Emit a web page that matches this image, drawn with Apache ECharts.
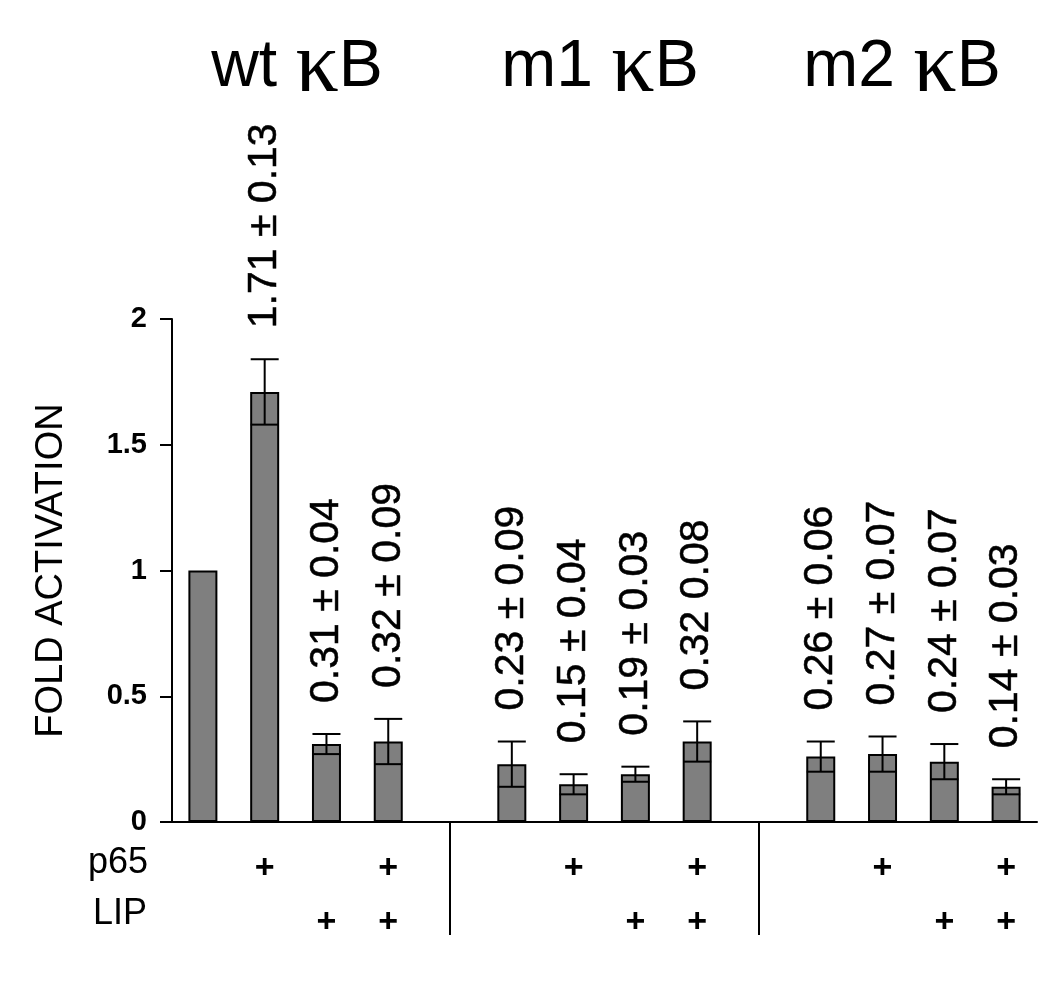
<!DOCTYPE html>
<html>
<head>
<meta charset="utf-8">
<script src="https://cdn.jsdelivr.net/npm/echarts@6/dist/echarts.min.js"></script>
<style>
  html, body { margin: 0; padding: 0; background: #fff; }
  #chart { width: 1050px; height: 981px; }
</style>
</head>
<body>
<div id="chart"></div>
<script>
// 数据
const categories = ['wt-1', 'wt-2', 'wt-3', 'wt-4', 'gap1', 'm1-1', 'm1-2', 'm1-3', 'm1-4', 'gap2', 'm2-1', 'm2-2', 'm2-3', 'm2-4'];
const values = [1, 1.71, 0.31, 0.32, null, 0.23, 0.15, 0.19, 0.32, null, 0.26, 0.27, 0.24, 0.14];
const errors = [null, 0.13, 0.04, 0.09, null, 0.09, 0.04, 0.03, 0.08, null, 0.06, 0.07, 0.07, 0.03];
const valueLabels = ['', '1.71 ± 0.13', '0.31 ± 0.04', '0.32 ± 0.09', '', '0.23 ± 0.09', '0.15 ± 0.04', '0.19 ± 0.03', '0.32 0.08', '', '0.26 ± 0.06', '0.27 ± 0.07', '0.24 ± 0.07', '0.14 ± 0.03'];
const p65 = [0, 1, 0, 1, 0, 0, 1, 0, 1, 0, 0, 1, 0, 1];
const lip = [0, 0, 1, 1, 0, 0, 0, 1, 1, 0, 0, 0, 1, 1];
const separators = ['gap1', 'gap2'];
const groupTitles = ['wt', 'm1', 'm2'];
const yTicks = [0, 0.5, 1, 1.5, 2];

const FONT = '"Liberation Sans", Arial, sans-serif';

const chart = echarts.init(document.getElementById('chart'));

const errData = [];
values.forEach((v, i) => {
  if (v != null && errors[i] != null) errData.push([i, v - errors[i], v + errors[i]]);
});
const labelData = values.map((v, i) => (v == null || !valueLabels[i]) ? '-' : v + (errors[i] || 0));

const option = {
  animation: false,
  backgroundColor: '#fff',
  grid: { left: 172, right: 13, top: 319, bottom: 159 },
  xAxis: {
    type: 'category',
    data: categories,
    axisLine: { lineStyle: { color: '#000', width: 2 } },
    axisTick: {
      show: true,
      alignWithLabel: true,
      length: 113,
      interval: (idx, val) => separators.indexOf(val) >= 0,
      lineStyle: { color: '#000', width: 2 }
    },
    axisLabel: {
      interval: 0,
      margin: 20,
      formatter: (val, idx) => {
        if (separators.indexOf(val) >= 0) return '';
        return '{p|' + (p65[idx] ? '+' : ' ') + '}\n{p|' + (lip[idx] ? '+' : ' ') + '}';
      },
      rich: {
        p: { fontFamily: FONT, fontWeight: 'bold', fontSize: 34, lineHeight: 54, color: '#000' }
      }
    }
  },
  yAxis: {
    type: 'value',
    min: 0,
    max: 2,
    interval: 0.5,
    name: 'FOLD ACTIVATION',
    nameLocation: 'middle',
    nameGap: 101,
    nameTextStyle: { fontFamily: FONT, fontSize: 38, color: '#000' },
    splitLine: { show: false },
    axisLine: { show: true, lineStyle: { color: '#000', width: 2 } },
    axisTick: { show: true, length: 12, lineStyle: { color: '#000', width: 2 } },
    axisLabel: {
      margin: 25,
      fontFamily: FONT,
      fontWeight: 'bold',
      fontSize: 29,
      color: '#000',
      formatter: v => yTicks.indexOf(v) >= 0 ? String(v) : ''
    }
  },
  series: [
    {
      type: 'bar',
      data: values,
      barWidth: 29,
      itemStyle: { color: '#7f7f7f', borderColor: '#000', borderWidth: 2 }
    },
    {
      type: 'custom',
      data: errData,
      encode: { x: 0, y: [1, 2] },
      z: 5,
      renderItem: (params, api) => {
        const i = api.value(0);
        const lo = api.coord([i, api.value(1)]);
        const hi = api.coord([i, api.value(2)]);
        const half = 14;
        const style = { stroke: '#000', lineWidth: 2 };
        return {
          type: 'group',
          children: [
            { type: 'line', shape: { x1: hi[0], y1: hi[1], x2: lo[0], y2: lo[1] }, style },
            { type: 'line', shape: { x1: hi[0] - half, y1: hi[1], x2: hi[0] + half, y2: hi[1] }, style },
            { type: 'line', shape: { x1: lo[0] - half, y1: lo[1], x2: lo[0] + half, y2: lo[1] }, style }
          ]
        };
      }
    },
    {
      type: 'scatter',
      data: labelData,
      symbolSize: 2,
      itemStyle: { color: 'rgba(0,0,0,0)', opacity: 1 },
      z: 6,
      label: {
        show: true,
        position: 'top',
        distance: 30,
        rotate: 90,
        align: 'left',
        verticalAlign: 'middle',
        fontFamily: FONT,
        fontSize: 41,
        color: '#000',
        textBorderColor: '#000',
        textBorderWidth: 0.5,
        formatter: p => valueLabels[p.dataIndex]
      }
    }
  ],
  graphic: [
    {
      type: 'text', right: 1050 - 148, top: 845,
      style: { text: 'p65', fontFamily: FONT, fontSize: 36, fill: '#000', align: 'right' }
    },
    {
      type: 'text', right: 1050 - 147, top: 896,
      style: { text: 'LIP', fontFamily: FONT, fontSize: 36, fill: '#000', align: 'right' }
    }
  ].concat(groupTitles.map((t, g) => ({
    type: 'text',
    x: [297, 600, 902][g],
    y: 68,
    style: {
      text: '{a|' + t + ' }{k|κ}{a|B}',
      align: 'center',
      verticalAlign: 'middle',
      rich: {
        a: { fontFamily: FONT, fontSize: 66, lineHeight: 74, fill: '#000' },
        k: { fontFamily: '"Liberation Serif", serif', fontSize: 86, lineHeight: 74, fill: '#000' }
      }
    }
  })))
};

chart.setOption(option);
</script>
</body>
</html>
